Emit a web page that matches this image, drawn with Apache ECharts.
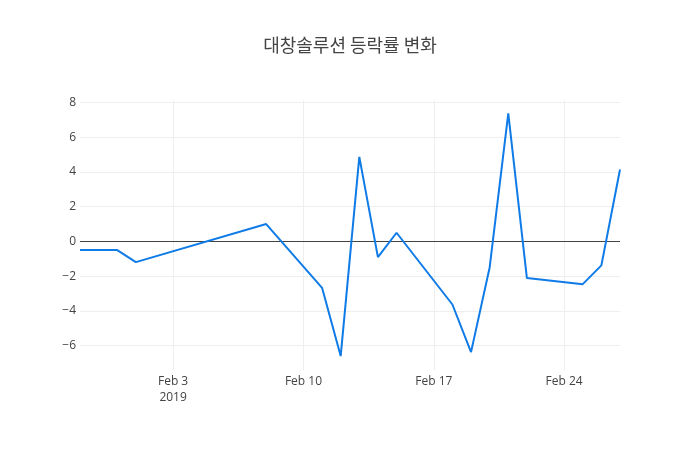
<!DOCTYPE html>
<html>
<head>
<meta charset="utf-8">
<script src="https://cdn.jsdelivr.net/npm/echarts@6/dist/echarts.min.js"></script>
<style>
  html, body { margin: 0; padding: 0; background: #fff; }
  #chart { width: 700px; height: 450px; }
</style>
</head>
<body>
<div id="chart"></div>
<script>
// 데이터
var dates = ['2019-01-29', '2019-01-31', '2019-02-01', '2019-02-08', '2019-02-11',
  '2019-02-12', '2019-02-13', '2019-02-14', '2019-02-15', '2019-02-18', '2019-02-19',
  '2019-02-20', '2019-02-21', '2019-02-22', '2019-02-25', '2019-02-26', '2019-02-27'];
var changes = [-0.5, -0.5, -1.19, 1.0, -2.67, -6.6, 4.87, -0.9, 0.5, -3.63, -6.37,
  -1.5, 7.37, -2.11, -2.46, -1.38, 4.14];
var xTickDates = ['2019-02-03', '2019-02-10', '2019-02-17', '2019-02-24'];
var xTickLabels = ['Feb 3\n2019', 'Feb 10', 'Feb 17', 'Feb 24'];
var yTicks = [-6, -4, -2, 0, 2, 4, 6, 8];

function ts (s) {
  var p = s.split('-');
  return Date.UTC(+p[0], +p[1] - 1, +p[2]);
}

(function () {
  var chart = echarts.init(document.getElementById('chart'));
  var xTicks = xTickDates.map(ts);

  var option = {
    animation: false,
    title: {
      text: '대창솔루션 등락률 변화',
      left: 'center',
      top: 31,
      textStyle: {
        fontFamily: 'Noto Sans CJK KR',
        fontSize: 18,
        fontWeight: 'normal',
        color: '#444'
      }
    },
    grid: {
      left: 80,
      right: 80,
      top: 100,
      bottom: 80
    },
    xAxis: {
      type: 'value',
      min: ts(dates[0]),
      max: ts(dates[dates.length - 1]),
      axisLine: { show: false },
      axisTick: { show: false, customValues: xTicks },
      axisLabel: {
        customValues: xTicks,
        color: '#444',
        fontFamily: 'Open Sans',
        fontSize: 12,
        lineHeight: 16,
        margin: 4,
        formatter: function (v) {
          var i = xTicks.indexOf(v);
          return i >= 0 ? xTickLabels[i] : '';
        }
      },
      splitLine: { show: true, lineStyle: { color: '#eee', width: 1 } }
    },
    yAxis: {
      type: 'value',
      min: -7.4,
      max: 8.14,
      axisLine: { show: false },
      axisTick: { show: false, customValues: yTicks },
      axisLabel: {
        customValues: yTicks,
        color: '#444',
        fontFamily: 'Open Sans',
        fontSize: 12,
        margin: 4,
        formatter: function (v) {
          return v < 0 ? '\u2212' + Math.abs(v) : String(v);
        }
      },
      splitLine: { show: true, lineStyle: { color: '#eee', width: 1 } }
    },
    series: [
      {
        type: 'line',
        data: dates.map(function (d, i) { return [ts(d), changes[i]]; }),
        showSymbol: false,
        lineStyle: { color: '#0f7be6', width: 2 },
        itemStyle: { color: '#0f7be6' },
        z: 3,
        markLine: {
          silent: true,
          symbol: 'none',
          label: { show: false },
          lineStyle: { color: '#444', width: 1, type: 'solid' },
          data: [{ yAxis: 0 }],
          z: 2
        }
      }
    ]
  };

  chart.setOption(option);
  window.addEventListener('resize', function () {
    chart.resize();
  });
})();
</script>
</body>
</html>
